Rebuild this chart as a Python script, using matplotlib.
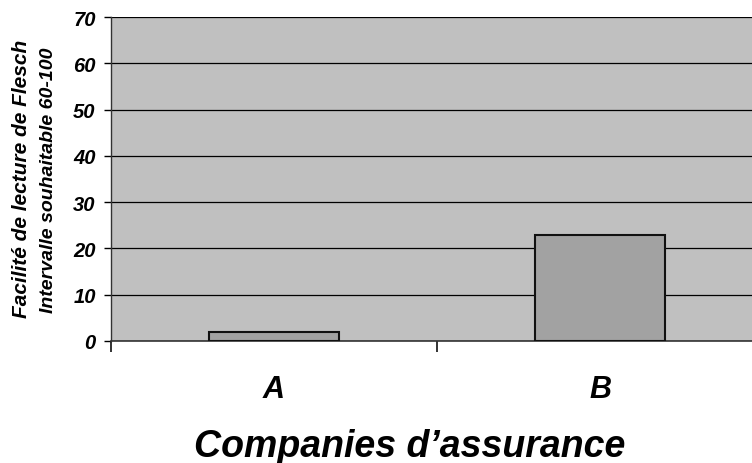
import matplotlib.pyplot as plt
from matplotlib.ticker import FixedLocator

companies = ['A', 'B']
flesch = [2, 23]
yticks = [0, 10, 20, 30, 40, 50, 60, 70]

plt.rcParams['font.family'] = ['Liberation Sans', 'DejaVu Sans']
bi = {'fontweight': 'bold', 'fontstyle': 'italic'}

fig = plt.figure(figsize=(7.52, 4.64), dpi=100)
# plot area runs past the right edge of the figure
ax = fig.add_axes([111 / 752, 122 / 464, 652 / 752, 324 / 464])
ax.set_facecolor('#c0c0c0')

x = list(range(len(companies)))
ax.bar(x, flesch, width=0.4, color='#a2a2a2', edgecolor='#111111', linewidth=1.5, zorder=3)

ax.set_xlim(-0.5, len(companies) - 0.5)
ax.set_ylim(0, 70)
ax.set_yticks(yticks)
ax.yaxis.grid(True, color='black', linewidth=0.9, zorder=1)
ax.set_axisbelow(True)

for s in ['top', 'right']:
    ax.spines[s].set_visible(False)
ax.spines['left'].set_color('#333333')
ax.spines['bottom'].set_color('#333333')
ax.spines['left'].set_linewidth(1.0)
ax.spines['bottom'].set_linewidth(1.2)

ax.set_yticklabels([str(v) for v in yticks], fontsize=14.5, **bi)
ax.tick_params(axis='y', length=5, width=1, pad=6)

# category labels in the middle, boundary ticks between categories
ax.set_xticks(x)
ax.set_xticklabels(companies, fontsize=22, **bi)
ax.tick_params(axis='x', which='major', length=0, pad=24)
ax.xaxis.set_minor_locator(FixedLocator([i + 0.5 for i in range(-1, len(companies))]))
ax.tick_params(axis='x', which='minor', length=8, width=1.2, color='#111111')

fig.text(410 / 752, 7 / 464, 'Companies d\u2019assurance', fontsize=27,
         ha='center', va='baseline', **bi)

fig.text(22 / 752, 1 - 179 / 464, 'Facilité de lecture de Flesch', fontsize=15,
         rotation=90, ha='center', va='center', **bi)
fig.text(49 / 752, 1 - 180.5 / 464, 'Intervalle souhaitable 60-100', fontsize=14,
         rotation=90, ha='center', va='center', **bi)

fig.savefig('out.png', dpi=100)
